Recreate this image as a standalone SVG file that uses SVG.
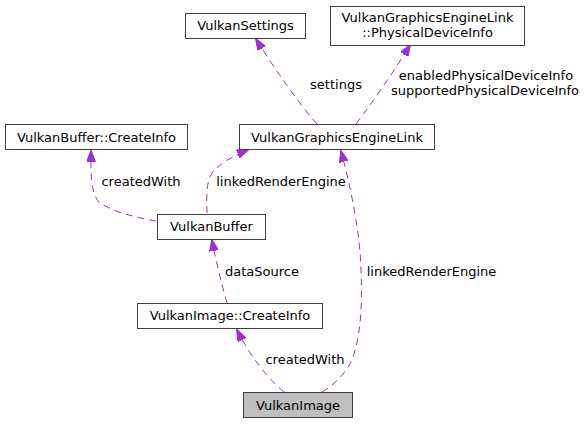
<svg xmlns="http://www.w3.org/2000/svg" width="586" height="424" viewBox="0 0 586 424">
<style>
.n rect{fill:#fff;stroke:#404040;stroke-width:1}
.n.cur rect{fill:#bfbfbf}
text{font-family:"DejaVu Sans",sans-serif;font-size:13px;fill:#000}
.n text,.c text.m{text-anchor:middle}
.c path{fill:none;stroke:#9a32cd;stroke-width:1;stroke-dasharray:7,5;marker-end:url(#ah)}
</style>
<defs>
<marker id="ah" viewBox="0 0 12 9" refX="11" refY="4.5" markerWidth="12" markerHeight="9" markerUnits="userSpaceOnUse" orient="auto">
<path d="M0,0 L12,4.5 L0,9 z" fill="#9a32cd" stroke="#9a32cd"/>
</marker>
</defs>
<rect width="586" height="424" fill="#fff"/>
<g class="c" id="connectors">
<path d="M284,392 C270,380 252,360 237,330"/>
<text class="m" x="305" y="363.5">createdWith</text>
<path d="M322,392 C337,383 346,372 352,360 C362,333 362,300 361,270 C360,230 350,185 341,151"/>
<text class="m" x="431.5" y="275.5">linkedRenderEngine</text>
<path d="M227,303 C222,285 216,262 212,240"/>
<text class="m" x="262" y="275.5">dataSource</text>
<path d="M156,221 C138,218 116,213 100,203 C90,194 91,172 91,151"/>
<text class="m" x="141" y="185.5">createdWith</text>
<path d="M207,213 C207,200 205,185 212,173 C220,163 235,155 248,150"/>
<text class="m" x="281" y="185.5">linkedRenderEngine</text>
<path d="M317,124 C300,105 275,70 256,39"/>
<text class="m" x="336" y="89">settings</text>
<path d="M356,124 C370,105 392,75 410,45"/>
<text class="m" x="486" y="80">enabledPhysicalDeviceInfo</text>
<text class="m" x="485" y="95">supportedPhysicalDeviceInfo</text>
</g>
<g class="n cur" id="VulkanImage">
<rect x="243.5" y="392.5" width="109" height="25"/>
<text x="298" y="409.5">VulkanImage</text>
</g>
<g class="n" id="VulkanImageCreateInfo">
<rect x="137.5" y="303.5" width="185" height="25"/>
<text x="230" y="320">VulkanImage::CreateInfo</text>
</g>
<g class="n" id="VulkanBuffer">
<rect x="157.5" y="214.5" width="108" height="25"/>
<text x="211.5" y="231">VulkanBuffer</text>
</g>
<g class="n" id="VulkanBufferCreateInfo">
<rect x="5.5" y="124.5" width="182" height="25"/>
<text x="96.5" y="141.5">VulkanBuffer::CreateInfo</text>
</g>
<g class="n" id="VulkanGraphicsEngineLink">
<rect x="239.5" y="124.5" width="195" height="25"/>
<text x="337" y="141.5">VulkanGraphicsEngineLink</text>
</g>
<g class="n" id="VulkanSettings">
<rect x="185.5" y="13.5" width="120" height="25"/>
<text x="245.5" y="30">VulkanSettings</text>
</g>
<g class="n" id="PhysicalDeviceInfo">
<rect x="330.5" y="6.5" width="194" height="39"/>
<text x="427.5" y="21.5">VulkanGraphicsEngineLink</text>
<text x="427.5" y="36.5">::PhysicalDeviceInfo</text>
</g>
</svg>
